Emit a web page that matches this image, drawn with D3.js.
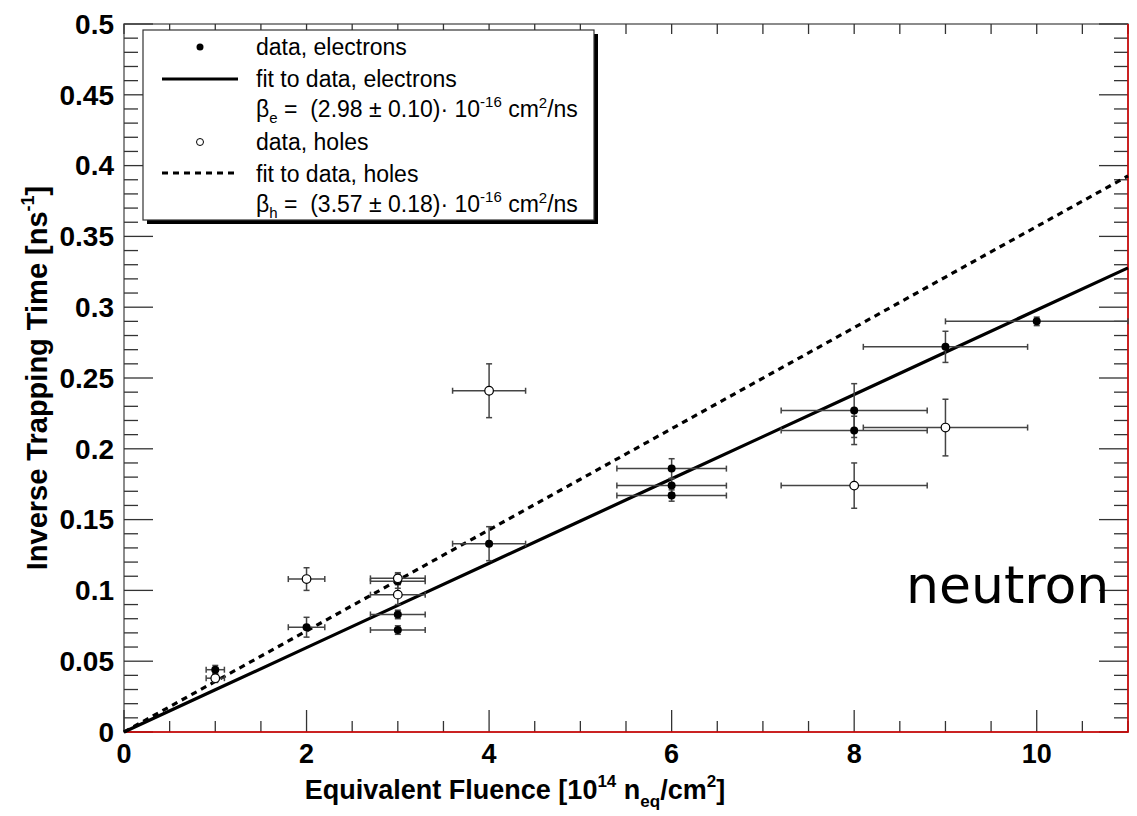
<!DOCTYPE html>
<html>
<head>
<meta charset="utf-8">
<script src="https://cdn.jsdelivr.net/npm/d3@7/dist/d3.min.js"></script>
<style>
  html, body { margin: 0; padding: 0; background: #fff; }
  svg { display: block; font-family: "Liberation Sans", Arial, sans-serif; }
</style>
</head>
<body>
<div id="chart"></div>
<script>
// electrons (filled points)
const elecX    = [1, 2, 3, 3, 3, 4, 6, 6, 6, 8, 8, 9, 10];
const elecY    = [0.044, 0.074, 0.1065, 0.083, 0.072, 0.133, 0.186, 0.174, 0.167, 0.227, 0.213, 0.272, 0.290];
const elecXErr = [0.1, 0.2, 0.3, 0.3, 0.3, 0.4, 0.6, 0.6, 0.6, 0.8, 0.8, 0.9, 1.0];
const elecYErr = [0.003, 0.007, 0.005, 0.003, 0.003, 0.012, 0.007, 0.005, 0.004, 0.019, 0.010, 0.011, 0.003];

// holes (open points)
const holeX    = [1, 2, 3, 3, 4, 8, 9];
const holeY    = [0.038, 0.108, 0.1085, 0.097, 0.241, 0.174, 0.215];
const holeXErr = [0.1, 0.2, 0.3, 0.3, 0.4, 0.8, 0.9];
const holeYErr = [0.003, 0.008, 0.004, 0.007, 0.019, 0.016, 0.020];

// fitted trapping constants, 10^-16 cm2/ns
const betaE = 2.98;
const betaH = 3.57;

const xTicks = [0, 2, 4, 6, 8, 10];
const yTicks = [0, 0.05, 0.1, 0.15, 0.2, 0.25, 0.3, 0.35, 0.4, 0.45, 0.5];

const W = 1137, H = 816;
const m = { left: 124, right: 9, top: 24, bottom: 84 };

const svg = d3.select('#chart').append('svg')
  .attr('width', W).attr('height', H);

const x = d3.scaleLinear().domain([0, 11]).range([m.left, W - m.right]);
const y = d3.scaleLinear().domain([0, 0.5]).range([H - m.bottom, m.top]);

const x0 = x.range()[0], x1 = x.range()[1];
const y0 = y.range()[0], y1 = y.range()[1];

// frame
svg.append('rect')
  .attr('x', x0).attr('y', y1)
  .attr('width', x1 - x0).attr('height', y0 - y1)
  .attr('fill', 'none').attr('stroke', '#666').attr('stroke-width', 1.5);

// ticks (ROOT style: on all four sides, inward)
const tk = svg.append('g').attr('stroke', '#333').attr('stroke-width', 1.3);
d3.range(0, 11.001, 0.5).forEach(v => {
  const major = Math.abs(v % 2) < 1e-9;
  tk.append('line').attr('x1', x(v)).attr('x2', x(v))
    .attr('y1', y0).attr('y2', y0 - (major ? 22 : 11));
  tk.append('line').attr('x1', x(v)).attr('x2', x(v))
    .attr('y1', y1).attr('y2', y1 + 10);
});
d3.range(0, 0.5001, 0.01).forEach(v => {
  const major = Math.abs(Math.round(v * 100) % 5) === 0;
  const len = major ? 29 : 14;
  tk.append('line').attr('x1', x0).attr('x2', x0 + len)
    .attr('y1', y(v)).attr('y2', y(v));
  tk.append('line').attr('x1', x1).attr('x2', x1 - len)
    .attr('y1', y(v)).attr('y2', y(v));
});

// red bottom / right edges
svg.append('path')
  .attr('d', `M${x0},${y0}H${x1}V${y1}`)
  .attr('fill', 'none').attr('stroke', '#e00000').attr('stroke-width', 1.5);

// tick labels
svg.append('g').selectAll('text').data(xTicks).join('text')
  .attr('x', d => x(d)).attr('y', y0 + 31)
  .attr('text-anchor', 'middle')
  .attr('font-size', 27).attr('font-weight', 'bold')
  .text(d => d);

svg.append('g').selectAll('text').data(yTicks).join('text')
  .attr('x', x0 - 10).attr('y', d => y(d))
  .attr('dy', '0.35em')
  .attr('text-anchor', 'end')
  .attr('font-size', 28).attr('font-weight', 'bold')
  .text(d => d3.format('~g')(d));

// axis titles
const xt = svg.append('text')
  .attr('x', 515).attr('y', 799)
  .attr('text-anchor', 'middle')
  .attr('font-size', 27).attr('font-weight', 'bold');
xt.append('tspan').text('Equivalent Fluence [10');
xt.append('tspan').attr('font-size', 17).attr('dy', -12).text('14');
xt.append('tspan').attr('dy', 12).text(' n');
xt.append('tspan').attr('font-size', 17).attr('dy', 8).text('eq');
xt.append('tspan').attr('dy', -8).text('/cm');
xt.append('tspan').attr('font-size', 17).attr('dy', -12).text('2');
xt.append('tspan').attr('dy', 12).text(']');

const yt = svg.append('text')
  .attr('transform', 'translate(47,378) rotate(-90)')
  .attr('text-anchor', 'middle')
  .attr('font-size', 29).attr('font-weight', 'bold');
yt.append('tspan').text('Inverse Trapping Time [ns');
yt.append('tspan').attr('font-size', 18).attr('dy', -13).text('-1');
yt.append('tspan').attr('dy', 13).text(']');

// fit lines
const fitE = d3.range(0, 11.001, 1).map(v => [v, betaE * 0.01 * v]);
const fitH = d3.range(0, 11.001, 1).map(v => [v, betaH * 0.01 * v]);
const line = d3.line().x(d => x(d[0])).y(d => y(d[1]));

svg.append('path').datum(fitH).attr('d', line)
  .attr('fill', 'none').attr('stroke', '#000').attr('stroke-width', 3.2)
  .attr('stroke-dasharray', '6,5');
svg.append('path').datum(fitE).attr('d', line)
  .attr('fill', 'none').attr('stroke', '#000').attr('stroke-width', 3.2);

// error bars
function errorBars(xs, ys, exs, eys) {
  const g = svg.append('g').attr('stroke', '#444').attr('stroke-width', 1.5);
  xs.forEach((xv, i) => {
    const cx = x(xv), cy = y(ys[i]);
    const xl = x(xv - exs[i]), xr = x(xv + exs[i]);
    const yt = y(ys[i] + eys[i]), yb = y(ys[i] - eys[i]);
    g.append('line').attr('x1', xl).attr('x2', xr).attr('y1', cy).attr('y2', cy);
    g.append('line').attr('x1', xl).attr('x2', xl).attr('y1', cy - 3).attr('y2', cy + 3);
    g.append('line').attr('x1', xr).attr('x2', xr).attr('y1', cy - 3).attr('y2', cy + 3);
    g.append('line').attr('x1', cx).attr('x2', cx).attr('y1', yt).attr('y2', yb);
    g.append('line').attr('x1', cx - 3).attr('x2', cx + 3).attr('y1', yt).attr('y2', yt);
    g.append('line').attr('x1', cx - 3).attr('x2', cx + 3).attr('y1', yb).attr('y2', yb);
  });
}
errorBars(elecX, elecY, elecXErr, elecYErr);
errorBars(holeX, holeY, holeXErr, holeYErr);

svg.append('g').selectAll('circle').data(elecX).join('circle')
  .attr('cx', d => x(d)).attr('cy', (d, i) => y(elecY[i]))
  .attr('r', 4).attr('fill', '#000');
svg.append('g').selectAll('circle').data(holeX).join('circle')
  .attr('cx', d => x(d)).attr('cy', (d, i) => y(holeY[i]))
  .attr('r', 4.3).attr('fill', '#fff').attr('stroke', '#000').attr('stroke-width', 1.2);

// legend
const lg = svg.append('g');
lg.append('rect').attr('x', 147).attr('y', 34).attr('width', 451).attr('height', 190).attr('fill', '#000');
lg.append('rect').attr('x', 143).attr('y', 30).attr('width', 451).attr('height', 190)
  .attr('fill', '#fff').attr('stroke', '#333').attr('stroke-width', 1.2);

const lx = 256, fs = 23;
lg.append('circle').attr('cx', 200).attr('cy', 47).attr('r', 3.5).attr('fill', '#000');
lg.append('line').attr('x1', 162).attr('x2', 238).attr('y1', 79).attr('y2', 79)
  .attr('stroke', '#000').attr('stroke-width', 3.2);
lg.append('circle').attr('cx', 200).attr('cy', 142).attr('r', 3.5)
  .attr('fill', '#fff').attr('stroke', '#000').attr('stroke-width', 1);
lg.append('line').attr('x1', 162).attr('x2', 238).attr('y1', 173).attr('y2', 173)
  .attr('stroke', '#000').attr('stroke-width', 3.2).attr('stroke-dasharray', '6,5');

function legText(yb, parts) {
  const t = lg.append('text').attr('x', lx).attr('y', yb).attr('font-size', fs);
  parts.forEach(p => {
    const s = t.append('tspan').text(p[0]);
    if (p[1]) s.attr('font-size', p[1]);
    if (p[2]) s.attr('dy', p[2]);
  });
  return t;
}
legText(55, [['data, electrons']]);
legText(87, [['fit to data, electrons']]);
legText(117, [['\u03b2'], ['e', 15, 6], ['\u00a0=\u00a0\u00a0(2.98 \u00b1 0.10)\u00b7 10', null, -6], ['-16', 15, -10], ['\u00a0cm', null, 10], ['2', 15, -9], ['/ns', null, 9]]);
legText(150, [['data, holes']]);
legText(182, [['fit to data, holes']]);
legText(212, [['\u03b2'], ['h', 15, 6], ['\u00a0=\u00a0\u00a0(3.57 \u00b1 0.18)\u00b7 10', null, -6], ['-16', 15, -10], ['\u00a0cm', null, 10], ['2', 15, -9], ['/ns', null, 9]]);

// label
svg.append('text').attr('x', 906).attr('y', 603)
  .attr('font-family', '"DejaVu Sans", sans-serif')
  .attr('font-size', 52).text('neutron');
</script>
</body>
</html>
